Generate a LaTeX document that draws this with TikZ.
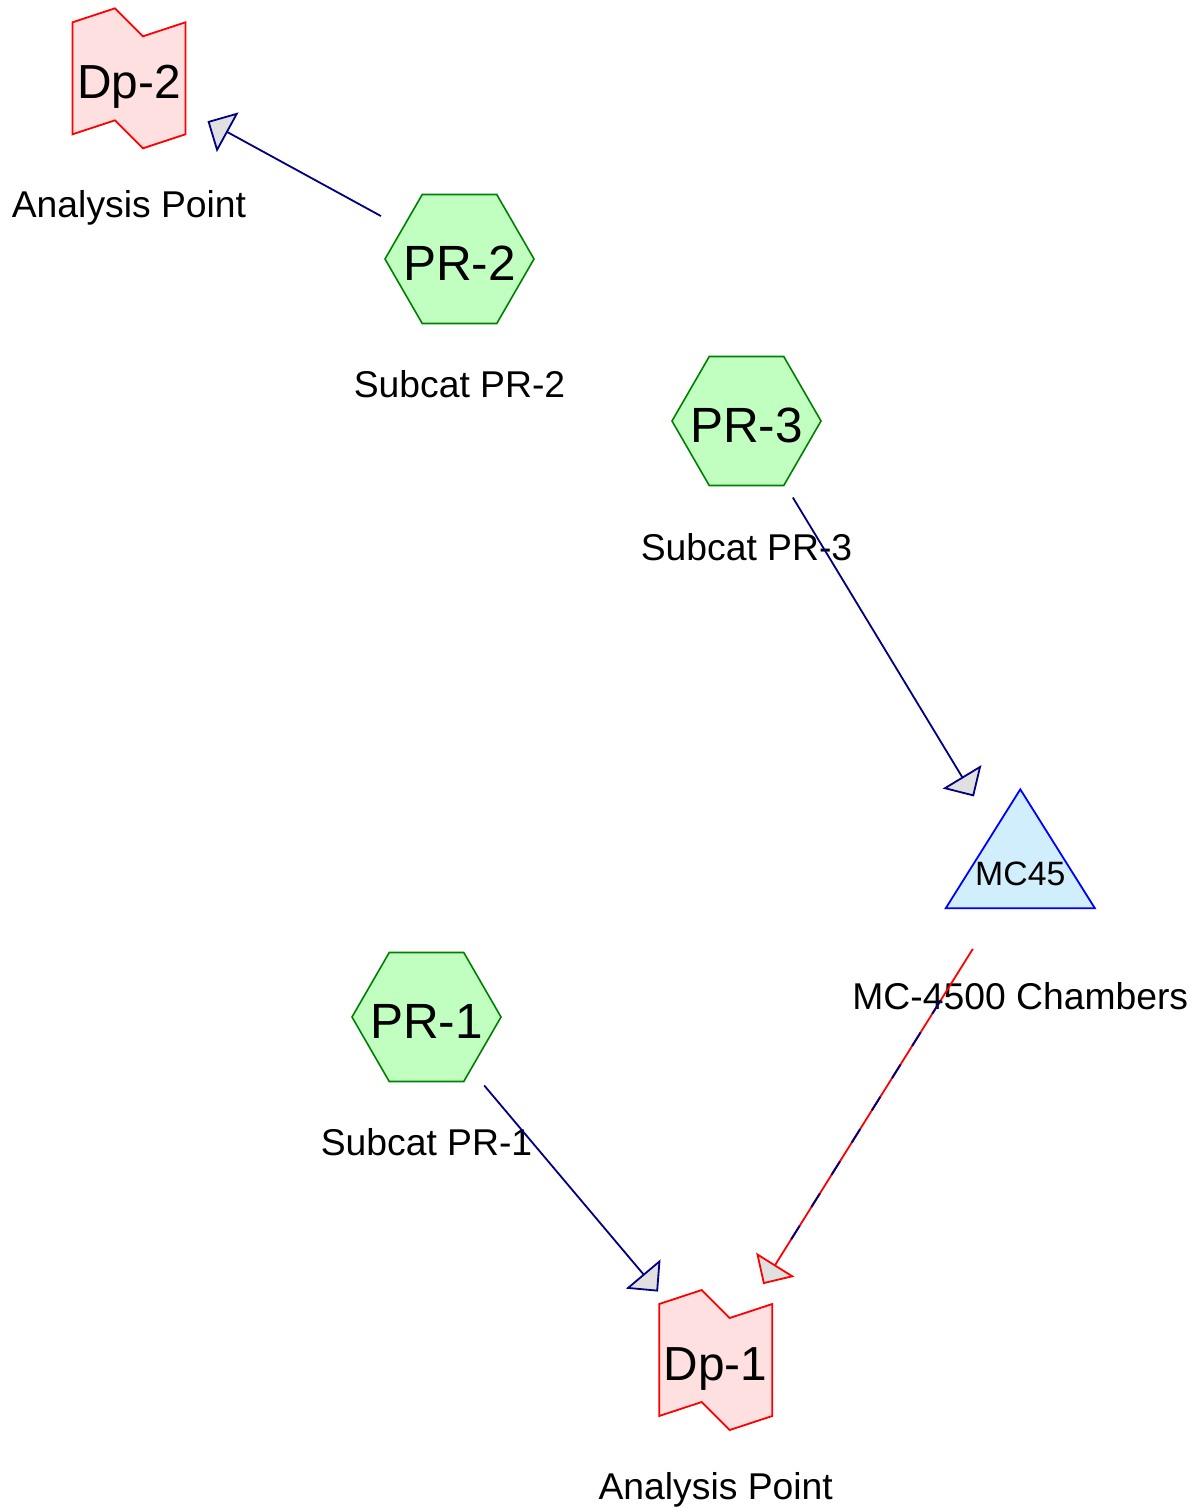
\documentclass[tikz,border=0pt]{standalone}
\usepackage{fontspec}
\setmainfont{Liberation Sans}
\usetikzlibrary{shapes.geometric,arrows.meta,calc}
\definecolor{hexfill}{HTML}{C0FFC0}
\definecolor{hexline}{HTML}{008000}
\definecolor{dpfill}{HTML}{FFE0E0}
\definecolor{trifill}{HTML}{D0EEFC}
\definecolor{navyline}{HTML}{000080}
\definecolor{arrowgray}{HTML}{E0E0E0}
\tikzset{
  hexnode/.style={regular polygon, regular polygon sides=6, minimum size=149pt, inner sep=0pt, outer sep=0pt, draw=hexline, fill=hexfill, line width=1.6pt},
  anchorbox/.style={inner sep=0pt, outer sep=0pt, minimum width=10pt, minimum height=10pt},
  dpstyle/.style={draw=red, fill=dpfill, line width=1.8pt, line join=miter},
  tristyle/.style={draw=blue, fill=trifill, line width=1.8pt, line join=miter},
  bigtext/.style={anchor=base, inner sep=0pt, font=\fontsize{49.5}{59}\selectfont},
  dptext/.style={anchor=base, inner sep=0pt, font=\fontsize{47.8}{57}\selectfont},
  mctext/.style={anchor=base, inner sep=0pt, font=\fontsize{33.8}{40}\selectfont},
  labeltext/.style={anchor=base, inner sep=0pt, font=\fontsize{37.3}{45}\selectfont},
  conn/.style={draw=navyline, line width=1.8pt, shorten <=89.5pt, shorten >=89.5pt,
    -{Triangle[length=23pt, width=45pt, fill=arrowgray, line join=miter]}},
  redconn/.style={conn, draw=red},
}
\newcommand{\DrawDp}[1]{%
  \draw[dpstyle] ($(#1)+(-56.5,-56)$) -- ($(#1)+(-14,-70)$) -- ($(#1)+(14,-42)$) -- ($(#1)+(56.5,-56)$)
    -- ($(#1)+(56.5,56)$) -- ($(#1)+(14,70)$) -- ($(#1)+(-14,42)$) -- ($(#1)+(-56.5,56)$) -- cycle;}
\begin{document}
\begin{tikzpicture}[x=1pt, y=-1pt]
\useasboundingbox (0,0) rectangle (1197,1508);
% anchor nodes
\node[anchorbox] (dp2) at (129,78.3) {};
\node[anchorbox] (dp1) at (715.7,1360) {};
\node[anchorbox] (mc) at (1020.3,873) {};
% shapes
\DrawDp{dp2}
\DrawDp{dp1}
\draw[tristyle] ($(mc)+(0,-83.7)$) -- ($(mc)+(74.6,35.3)$) -- ($(mc)+(-74.6,35.3)$) -- cycle;
\node[hexnode] (pr2) at (459.5,259) {};
\node[hexnode] (pr3) at (746.5,421) {};
\node[hexnode] (pr1) at (426.5,1017) {};
% inner texts
\node[dptext] (tdp2) at ($(dp2)+(0,20)$) {Dp-2};
\node[dptext] (tdp1) at ($(dp1)+(0,20)$) {Dp-1};
\node[mctext] (tmc) at ($(mc)+(0,12)$) {MC45};
\node[bigtext] (tpr2) at ($(pr2)+(0,21)$) {PR-2};
\node[bigtext] (tpr3) at ($(pr3)+(0,21)$) {PR-3};
\node[bigtext] (tpr1) at ($(pr1)+(0,21)$) {PR-1};
% labels
\node[labeltext] (ldp2) at ($(dp2)+(0,139)$) {Analysis Point};
\node[labeltext] (ldp1) at ($(dp1)+(0,139)$) {Analysis Point};
\node[labeltext] (lpr2) at ($(pr2)+(0,138)$) {Subcat PR-2};
\node[labeltext] (lpr3) at ($(pr3)+(0,139)$) {Subcat PR-3};
\node[labeltext] (lpr1) at ($(pr1)+(0,138)$) {Subcat PR-1};
\node[labeltext] (lmc) at ($(mc)+(0,136)$) {MC-4500 Chambers};
% connectors
\draw[conn] (pr2.center) -- (dp2.center);
\draw[conn] (pr3.center) -- (mc.center);
\draw[conn] (pr1.center) -- (dp1.center);
\draw[redconn] (mc.center) -- (dp1.center);
\draw[navyline, line width=1.9pt, shorten <=150pt, shorten >=130pt, dash pattern=on 16pt off 22pt] (mc.center) -- (dp1.center);
\end{tikzpicture}
\end{document}
